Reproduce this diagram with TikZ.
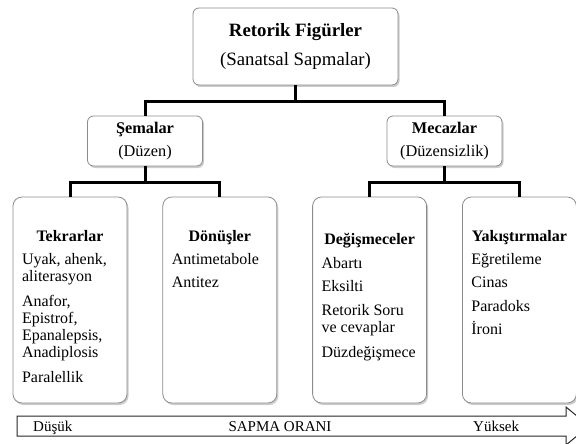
\documentclass[tikz,border=0pt]{standalone}
\usepackage{fontspec}
\setmainfont{Liberation Serif}
\usetikzlibrary{positioning,shadows}

\begin{document}
\begin{tikzpicture}[x=1pt, y=-1pt, node distance=35pt]
  \tikzstyle{box}=[rectangle, draw=black!45, line width=0.8pt, fill=white, rounded corners=6pt, align=center, drop shadow={shadow xshift=1.5pt, shadow yshift=-2pt, fill=black!40}]
  \tikzstyle{root}=[box, minimum width=205pt, minimum height=77pt, font=\fontsize{18.8}{29}\selectfont]
  \tikzstyle{group}=[box, minimum width=115pt, minimum height=50pt, font=\fontsize{16.3}{23}\selectfont]
  \tikzstyle{leaf}=[box, rounded corners=9pt, minimum width=114pt, minimum height=206pt, inner sep=8pt, font=\fontsize{16}{17}\selectfont]
  \tikzstyle{link}=[line width=3pt]
  \tikzstyle{ratearrow}=[draw=black!85, line width=1pt, fill=white]
  \tikzstyle{tag}=[anchor=base west, inner sep=0pt, font=\fontsize{15}{15}\selectfont]
  \useasboundingbox (0,0) rectangle (576,444);
  \node[root] (fig) at (295.5,46.5) {\textbf{Retorik Figürler}\\(Sanatsal Sapmalar)};
  \node[group] (sem) at (145,141) {\textbf{Şemalar}\\(Düzen)};
  \node[group] (mec) at (444.5,141) {\textbf{Mecazlar}\\(Düzensizlik)};
  \node[leaf] (tek) at (70,300) {\parbox[t][190pt][t]{96pt}{\raggedright\vspace*{25pt}\makebox[96pt]{\textbf{Tekrarlar}}\\[6pt]Uyak, ahenk,\\aliterasyon\\[8pt]Anafor,\\Epistrof,\\Epanalepsis,\\Anadiplosis\\[8pt]Paralellik}};
  \node[leaf, right=of tek] (don) {\parbox[t][190pt][t]{96pt}{\raggedright\vspace*{25pt}\makebox[96pt]{\textbf{Dönüşler}}\\[6pt]Antimetabole\\[6.5pt]Antitez}};
  \node[leaf, right=of don] (deg) {\parbox[t][190pt][t]{96pt}{\raggedright\vspace*{28pt}\makebox[96pt]{\textbf{Değişmeceler}}\\[7pt]Abartı\\[6.5pt]Eksilti\\[6.5pt]Retorik Soru\\ve cevaplar\\[8pt]Düzdeğişmece}};
  \node[leaf, right=of deg] (yak) {\parbox[t][190pt][t]{96pt}{\raggedright\vspace*{25pt}\makebox[96pt]{\textbf{Yakıştırmalar}}\\[6pt]Eğretileme\\[6.5pt]Cinas\\[6.5pt]Paradoks\\[6.5pt]İroni}};
  \draw[link] (fig.south) -- ++(0,16) -| (sem.north);
  \draw[link] (fig.south) -- ++(0,16) -| (mec.north);
  \draw[link] (sem.south) -- ++(0,16) -| (tek.north);
  \draw[link] (sem.south) -- ++(0,16) -| (don.north);
  \draw[link] (mec.south) -- ++(0,16) -| (deg.north);
  \draw[link] (mec.south) -- ++(0,16) -| (yak.north);
  % sapma orani oku
  \draw[ratearrow] (17,416) -- (566,416) -- (566,407) -- (589,426) -- (566,445) -- (566,436) -- (17,436) -- cycle;
  \node[tag] (low) at (33,431.5) {Düşük};
  \node[tag, anchor=base] (rate) at (280,431.5) {SAPMA ORANI};
  \node[tag] (high) at (473,431.5) {Yüksek};
\end{tikzpicture}
\end{document}
